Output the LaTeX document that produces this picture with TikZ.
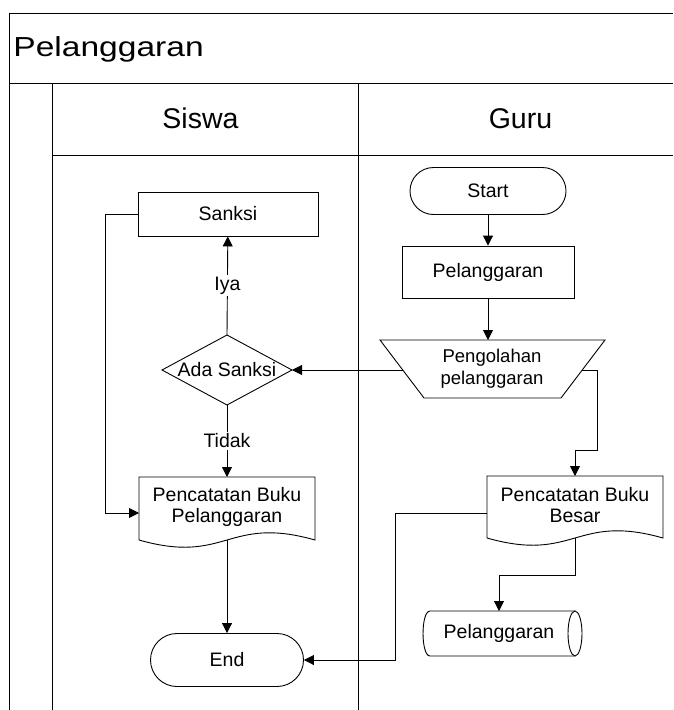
\documentclass[tikz,border=0pt]{standalone}
\usepackage{fontspec}
\setmainfont{Liberation Sans}
\newfontfamily\widesans[FakeStretch=1.22]{Liberation Sans}
\usetikzlibrary{arrows.meta,calc}
\begin{document}
\begin{tikzpicture}[x=1pt,y=-1pt,
  line width=0.9pt,
  flow/.style={draw=black, line width=0.9pt, -{Triangle[length=10pt,width=10pt]}},
  txt/.style={font=\fontsize{19.5}{21.5}\selectfont, align=center, inner sep=0pt},
  box/.style={txt, draw=black, line width=0.9pt},
  term/.style={box, rounded corners=#1},
  cond/.style={txt, fill=white, inner sep=2pt},
  lanehead/.style={font=\fontsize{28.5}{32}\selectfont, inner sep=0pt}
]
\useasboundingbox (0,0) rectangle (673,710);

% pool frame and lanes
\draw (9,13) -- (673,13);
\draw (9,13) -- (9,710);
\draw (9,83) -- (673,83);
\draw (52,83) -- (52,710);
\draw (52,155) -- (673,155);
\draw (358,83) -- (358,710);

\node[font=\widesans\fontsize{27.5}{30}\selectfont, inner sep=0pt, anchor=base west] (title) at (13,56.5) {Pelanggaran};
\node[lanehead] (siswa) at (200.5,118.5) {Siswa};
\node[lanehead] (guru) at (520.5,118.5) {Guru};

% Guru lane
\node[term=23.5pt, minimum width=156pt, minimum height=47pt] (start) at (488,191) {Start};
\node[box, minimum width=172pt, minimum height=52pt] (pel) at (488,272) {Pelanggaran};

% manual operation
\node[txt, font=\fontsize{18.5}{22}\selectfont] (olah) at (492,369) {Pengolahan\\pelanggaran};
\draw (380,340) -- (605,340) -- (561,398) -- (424,398) -- cycle;
\coordinate (olah-t) at (488,340);
\coordinate (olah-l) at (403,370);
\coordinate (olah-r) at (582,370);

% document: Pencatatan Buku Besar
\node[txt] (pbb) at (575,505) {Pencatatan Buku\\Besar};
\draw (487,538) -- (487,476) -- (663,476) -- (663,538)
  .. controls (575,513) and (575,563) .. (487,538);
\coordinate (pbb-t) at (575,476);
\coordinate (pbb-l) at (487,513);
\coordinate (pbb-b) at (575,538);

% stored data
\node[txt] (arsip) at (499,633.5) {Pelanggaran};
\draw (575,611) -- (430,611) .. controls (420.7,611) and (420.7,656) .. (430,656) -- (575,656);
\draw (575,633.5) ellipse [x radius=7pt, y radius=22.5pt];
\coordinate (arsip-t) at (499,611);

% Siswa lane
\node[box, minimum width=180pt, minimum height=44pt] (sanksi) at (228,214) {Sanksi};

\node[txt] (ada) at (227,370) {Ada Sanksi};
\coordinate (ada-t) at (227,335);
\coordinate (ada-r) at (292,370);
\coordinate (ada-b) at (227,405);
\coordinate (ada-l) at (162,370);
\draw (ada-t) -- (ada-r) -- (ada-b) -- (ada-l) -- cycle;

% document: Pencatatan Buku Pelanggaran
\node[txt] (pbp) at (227,507) {Pencatatan Buku\\Pelanggaran};
\draw (139,540) -- (139,477) -- (315,477) -- (315,540)
  .. controls (227,515) and (227,565) .. (139,540);
\coordinate (pbp-t) at (227,477);
\coordinate (pbp-l) at (139,513);
\coordinate (pbp-b) at (227,540);

\node[term=26.5pt, minimum width=153pt, minimum height=53pt] (end) at (227,660) {End};

% connectors
\draw[flow] (start) -- (pel);
\draw[flow] (pel) -- (olah-t);
\draw[flow] (olah-l) -- (ada-r);
\draw[flow] (ada-t) -- node[cond] {Iya} (sanksi);
\draw[flow] (ada-b) -- node[cond] {Tidak} (pbp-t);
\draw[flow] (sanksi.west) -- ++(-32,0) |- (pbp-l);
\draw[flow] (pbp-b) -- (end);
\coordinate (bend1) at (597,450);
\draw[flow] (olah-r) -| (bend1) -| (pbb-t);
\draw[flow] (pbb-l) -- ++(-92,0) |- (end.east);
\coordinate (bend2) at (575,575);
\draw[flow] (pbb-b) -- (bend2) -| (arsip-t);
\end{tikzpicture}
\end{document}
